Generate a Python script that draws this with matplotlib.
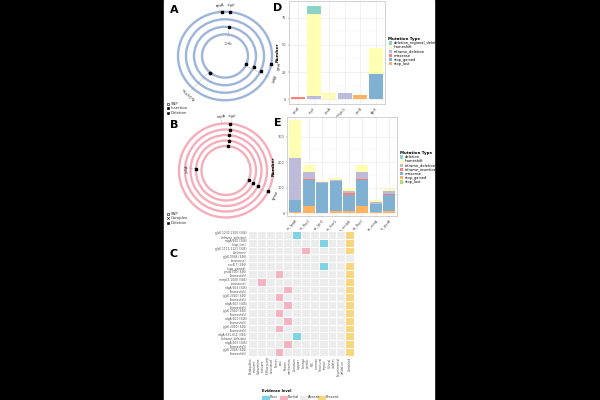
import matplotlib
matplotlib.use("Agg")
import numpy as np
import matplotlib.pyplot as plt
from matplotlib.patches import Circle, Rectangle, Patch
from matplotlib.colors import ListedColormap
from matplotlib.lines import Line2D

# ---- data ----
# panel A rings: (ring, angle, marker)
a_marks = [(0, 94, 's'), (0, 84, 's'), (2, 82, 's'), (3, -21, 's'),
           (2, -23, 's'), (1, -24, 's'), (0, -11, 's'), (3, -130, 'o')]
# label, angle, leader from r, leader to r, label r
a_labels = [("rpsA", 96, 47, 51, 52), ("ctpF", 84, 47, 51, 52),
            ("pstB", -12, 47, 50, 51), ("glpK", -27, 23, 50, 51),
            ("Rv1979c", -133, 23, 50, 51)]
a_inner = [("rrpC", 82, 31, 20, 18)]

b_marks = [(0, 85, 's'), (1, 85, 's'), (2, 85, 's'), (3, 85, 's'), (4, 85, 's'),
           (3, 178, 's'), (4, -22, 's'), (3, -24, 's'), (2, -25, 's'), (0, -26, 's')]
b_labels = [("urpA", 95, 47, 51, 52), ("ctpF", 84, 24.5, 51, 52),
            ("pncA", -28, 24.5, 50, 51), ("ydiA", 177, 30, 36, 37)]

d_genes = ["cpsA", "ctpF", "rpsA", "mmpL5", "pstB", "glpK"]
d_types = ["deletion_regional_deletion", "frameshift", "inframe_deletion",
           "missense", "stop_gained", "stop_lost"]
d_deletion_regional = [0, 8, 0, 0, 0, 0]
d_frameshift = [0, 75, 6, 0, 0, 24]
d_inframe_deletion = [0, 3, 0, 6, 0, 0]
d_missense = [2, 0, 0, 0, 0, 0]
d_stop_gained = [0, 0, 0, 0, 0, 23]
d_stop_lost = [0, 0, 0, 0, 4, 0]

e_genes = ["cs_lpdA", "sn_fbpC", "ac_lprO", "cs_katG", "rs_embB", "sp_fbpC", "ac_ethA", "rs_gyrA"]
e_types = ["deletion", "frameshift", "inframe_deletion", "inframe_insertion",
           "missense", "stop_gained", "stop_lost"]
e_deletion = [0, 0, 0, 0, 0, 0, 0, 0]
e_frameshift = [150, 29, 4, 9, 13, 29, 9, 10]
e_inframe_deletion = [163, 26, 4, 3, 8, 26, 8, 8]
e_inframe_insertion = [0, 6, 0, 0, 5, 6, 0, 5]
e_missense = [47, 102, 115, 116, 64, 102, 31, 62]
e_stop_gained = [5, 26, 2, 10, 8, 26, 4, 10]
e_stop_lost = [0, 1, 0, 0, 1, 1, 0, 0]

c_rows = ["glpK 1230-1300 (346)\n(inframe_deletion)", "rdgA 600 (346)\n(stop_lost)",
          "glpK 1111-1121 (345)\n(deletion)", "glpK 2046 (346)\n(missense)",
          "eccB 7 (346)\n(stop_gained)", "pncA 500 (346)\n(frameshift)",
          "mmpL5 1000 (346)\n(missense)", "rdgA 603 (346)\n(frameshift)",
          "glpK 2040 (346)\n(frameshift)", "rdgA 603 (346)\n(frameshift)",
          "glpK 2040 (346)\n(frameshift)", "rdgA 603 (346)\n(frameshift)",
          "glpK 2040 (346)\n(frameshift)", "rdgA 631-611 (346)\n(inframe_deletion)",
          "rdgA 603 (346)\n(frameshift)", "glpK 2046 (346)\n(frameshift)"]
c_cols = ["Bedaquiline\nresistant", "Clofazimine\nresistant", "Efflux pump\nassociated",
          "Fitness\ncost", "Known\nmechanism", "Literature\nsupport", "Lineage\nspecific",
          "MIC\nincrease", "Structural\nimpact", "Clinical\nisolates",
          "Experimental\nvalidation", "Combined"]
# 0 absent, 1 poor, 2 partial, 3 present: (row -> {col: level})
c_hits = [{5: 1, 11: 3}, {8: 1, 11: 3}, {6: 2, 11: 3}, {}, {8: 1, 11: 3},
          {3: 2, 11: 3}, {1: 2, 11: 3}, {4: 2, 11: 3}, {3: 2, 11: 3}, {4: 2, 11: 3},
          {3: 2, 11: 3}, {4: 2, 11: 3}, {3: 2, 11: 3}, {5: 1, 11: 3}, {4: 2, 11: 3},
          {3: 2, 11: 3}]
c_levels = ["Poor", "Partial", "Absent", "Present"]

W, H = 600, 400
fig = plt.figure(figsize=(6, 4), dpi=100, facecolor='black')


def box(x0, y0, x1, y1):
    return [x0 / W, 1 - y1 / H, (x1 - x0) / W, (y1 - y0) / H]


def fx(x):
    return x / W


def fy(y):
    return 1 - y / H


fig.add_artist(Rectangle((fx(164), 0), fx(434) - fx(164), 1, transform=fig.transFigure,
                         color='white', zorder=-5))

LEAD = dict(color='#8c8c8c', lw=0.35, ls=(0, (1.5, 1.2)))


def ring_panel(rect, radii, color, marks, labels, inner=()):
    ax = fig.add_axes(rect)
    ax.set_xlim(-60, 60)
    ax.set_ylim(-60, 60)
    ax.axis('off')
    for r in radii:
        ax.add_patch(Circle((0, 0), r, fill=False, ec=color, lw=1.7))
    for name, ang, r0, r1, rl in list(labels) + list(inner):
        a = np.radians(ang)
        ax.plot([r0 * np.cos(a), r1 * np.cos(a)], [r0 * np.sin(a), r1 * np.sin(a)], **LEAD)
        rot = ang - 90 if r1 > r0 else ang + 90
        ax.text(rl * np.cos(a), rl * np.sin(a), name, fontsize=2.8, rotation=rot,
                rotation_mode='anchor', ha='center', va='bottom', color='#333333')
    for ring, ang, mk in marks:
        a = np.radians(ang)
        r = radii[ring]
        ax.plot(r * np.cos(a), r * np.sin(a), marker=mk, ms=1.8, color='black', mec='black')
    return ax


ring_panel(box(165, -0.5, 285, 112.5), [47, 39, 31, 23], '#9db5da', a_marks, a_labels, a_inner)
ring_panel(box(166, 110.5, 286, 230.5), [47, 41, 35.5, 30, 24.5], '#f5aeb9', b_marks, b_labels)


def ring_legend(y0, entries):
    for i, (mk, fill, txt) in enumerate(entries):
        y = fy(y0 + i * 4.3)
        fig.add_artist(Line2D([fx(168)], [y], marker=mk, ms=1.8, color='black',
                              mfc=fill, mew=0.4, transform=fig.transFigure))
        fig.text(fx(170.5), y, txt, fontsize=2.8, va='center', ha='left', color='#333333')


ring_legend(104, [('o', 'white', 'SNP'), ('o', 'black', 'Insertion'), ('s', 'black', 'Deletion')])
ring_legend(214, [('o', 'white', 'SNP'), ('x', 'black', 'Complex'), ('s', 'black', 'Deletion')])

for lab, x, y in [("A", 174.5, 10), ("B", 174, 125), ("C", 174, 254), ("D", 278, 8), ("E", 278, 123)]:
    fig.text(fx(x), fy(y), lab, fontsize=8, fontweight='bold', ha='center', va='center')

# ---- stacked bars ----
set3 = {"deletion_regional_deletion": "#8DD3C7", "deletion": "#8DD3C7", "frameshift": "#FFFFB3",
        "inframe_deletion": "#BEBADA", "inframe_insertion": "#FB8072", "missense": "#FB8072",
        "stop_gained": "#80B1D3", "stop_lost": "#FDB462"}
e_colors = {"deletion": "#8DD3C7", "frameshift": "#FFFFB3", "inframe_deletion": "#BEBADA",
            "inframe_insertion": "#FB8072", "missense": "#80B1D3", "stop_gained": "#FDB462",
            "stop_lost": "#B3DE69"}


def style_bar_ax(ax, genes, ylim, yticks):
    ax.set_xlim(-0.6, len(genes) - 0.4)
    ax.set_ylim(*ylim)
    ax.set_yticks(yticks)
    ax.set_yticks([t + (yticks[1] - yticks[0]) / 2 for t in yticks[:-1]], minor=True)
    ax.set_xticks(range(len(genes)))
    ax.set_xticklabels(genes, rotation=45, ha='right', rotation_mode='anchor')
    ax.grid(True, which='major', color='#e6e6e6', lw=0.4)
    ax.grid(True, which='minor', axis='y', color='#f2f2f2', lw=0.25)
    ax.set_axisbelow(True)
    for s in ax.spines.values():
        s.set_color('#c0c0c0')
        s.set_linewidth(0.5)
    ax.tick_params(which='both', length=1, width=0.3, labelsize=2.5, pad=0.8,
                   colors='#555555', labelcolor='#4d4d4d')
    ax.tick_params(which='minor', length=0)
    ax.set_ylabel("Number", fontsize=3.2, fontweight='bold', labelpad=1.5)
    ax.set_xlabel("Gene", fontsize=3.2, fontweight='bold', labelpad=0.5)


def stacked(ax, genes, series, types, colors):
    x = np.arange(len(genes))
    bottom = np.zeros(len(genes))
    for t in reversed(types):
        vals = np.array(series[t], dtype=float)
        ax.bar(x, vals, 0.9, bottom=bottom, color=colors[t], edgecolor='none')
        bottom += vals


def bar_legend(ax, types, colors, x, y):
    handles = [Patch(facecolor=colors[t], edgecolor='none') for t in types]
    leg = ax.legend(handles, types, title="Mutation Type", loc='upper left',
                    bbox_to_anchor=(fx(x), fy(y)), bbox_transform=fig.transFigure,
                    fontsize=2.6, title_fontsize=2.9, frameon=False, handlelength=0.9,
                    handleheight=1.0, labelspacing=0.05, handletextpad=0.5, borderpad=0,
                    borderaxespad=0, alignment='left')
    leg.get_title().set_fontweight('bold')


ax_d = fig.add_axes(box(289, 1, 385, 104))
d_series = dict(zip(d_types, [d_deletion_regional, d_frameshift, d_inframe_deletion,
                              d_missense, d_stop_gained, d_stop_lost]))
d_colors = dict(zip(d_types, ["#8DD3C7", "#FFFFB3", "#BEBADA", "#FB8072", "#80B1D3", "#FDB462"]))
stacked(ax_d, d_genes, d_series, d_types, d_colors)
style_bar_ax(ax_d, d_genes, (-4.3, 90.3), [0, 25, 50, 75])
bar_legend(ax_d, d_types, d_colors, 388.5, 37)

ax_e = fig.add_axes(box(287.3, 116.7, 397.3, 216))
e_series = dict(zip(e_types, [e_deletion, e_frameshift, e_inframe_deletion, e_inframe_insertion,
                              e_missense, e_stop_gained, e_stop_lost]))
stacked(ax_e, e_genes, e_series, e_types, e_colors)
style_bar_ax(ax_e, e_genes, (-11, 378), [0, 100, 200, 300])
bar_legend(ax_e, e_types, e_colors, 399.5, 151)

# ---- heatmap C ----
grid = np.zeros((len(c_rows), len(c_cols)))
for i, hits in enumerate(c_hits):
    for j, lev in hits.items():
        grid[i, j] = lev
cmap = ListedColormap(['#ececec', '#7fd3e4', '#f5b2c1', '#f8d67f'])
ax_c = fig.add_axes(box(248, 231, 354, 355.7))
ax_c.pcolormesh(grid, cmap=cmap, vmin=-0.5, vmax=3.5, edgecolors='white', linewidth=0.4)
ax_c.set_ylim(len(c_rows), 0)
ax_c.set_xlim(0, len(c_cols))
ax_c.set_yticks(np.arange(len(c_rows)) + 0.5)
ax_c.set_yticklabels(c_rows, fontsize=2.1, linespacing=1.0, color='#4d4d4d')
ax_c.set_xticks(np.arange(len(c_cols)) + 0.5)
ax_c.set_xticklabels(c_cols, fontsize=2.1, rotation=90, linespacing=1.0, color='#4d4d4d')
ax_c.tick_params(length=0, pad=1)
for s in ax_c.spines.values():
    s.set_visible(False)

fig.text(fx(262), fy(391), "Evidence level", fontsize=2.6, fontweight='bold', va='center')
leg_colors = ['#7fd3e4', '#f5b2c1', '#ececec', '#f8d67f']
for lab, col, x in zip(c_levels, leg_colors, [262, 280, 300, 318]):
    fig.add_artist(Rectangle((fx(x), fy(398.5)), fx(6.5), 3 / H, transform=fig.transFigure,
                             color=col))
    fig.text(fx(x + 8), fy(397), lab, fontsize=2.5, va='center', color='#333333')

fig.savefig("out.png", dpi=100, facecolor='black')
